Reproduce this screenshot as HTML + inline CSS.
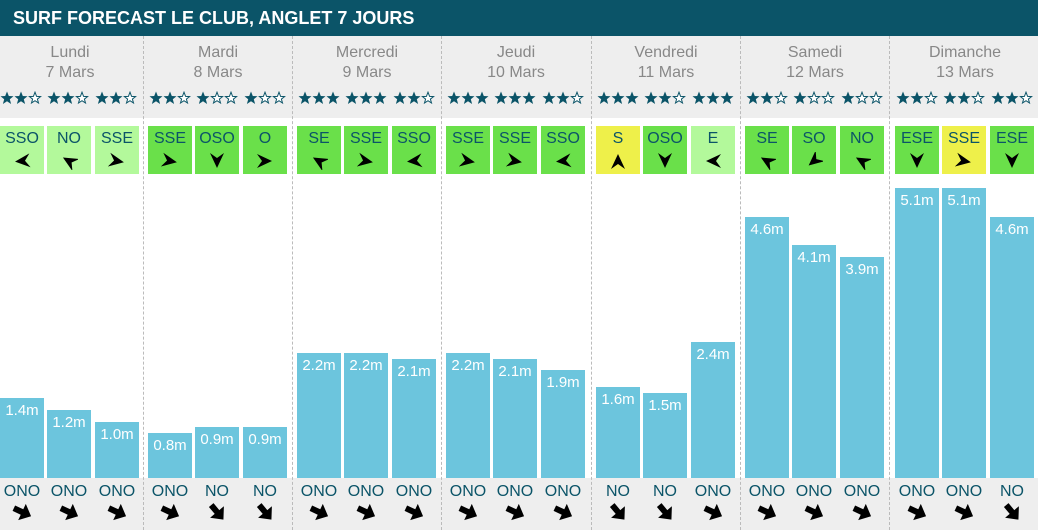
<!DOCTYPE html>
<html><head><meta charset="utf-8"><style>
body{margin:0;width:1038px;height:530px;overflow:hidden;background:#fff;font-family:"Liberation Sans",Arial,sans-serif;position:relative}
.hd{position:absolute;left:0;top:0;width:1038px;height:36px;background:#0b5468;color:#fff;font-weight:bold;font-size:18px;line-height:36px;padding-left:13px;box-sizing:border-box}
.g1{position:absolute;left:0;top:36px;width:1038px;height:82px;background:#eee}
.g2{position:absolute;left:0;top:478px;width:1038px;height:52px;background:#eee}
.dv{position:absolute;top:36px;height:494px;border-left:1px dashed #bbb}
.day{position:absolute;top:43px;width:140px;text-align:center;color:#888;font-size:16px;line-height:20px}
.st{position:absolute;top:91px;width:44px;height:16px}
.w{position:absolute;top:126px;width:44px;height:48px;text-align:center;color:#0b5468;font-size:16px;line-height:26px}
.w svg,.b svg{display:block;margin:0 auto}
.L{background:#b3f99b}.G{background:#6ae04a}.Y{background:#eef04a}
.bar{position:absolute;bottom:52px;width:44px;background:#6cc5dd;color:#fff;font-size:15px;text-align:center;padding-top:4px;box-sizing:border-box}
.b{position:absolute;top:482px;width:48px;text-align:center;color:#0b5468;font-size:16px;line-height:20px}
</style></head><body>
<div class="hd">SURF FORECAST LE CLUB, ANGLET 7 JOURS</div>
<div class="g1"></div><div class="g2"></div>
<div class="dv" style="left:143px"></div><div class="dv" style="left:292px"></div><div class="dv" style="left:441px"></div><div class="dv" style="left:591px"></div><div class="dv" style="left:740px"></div><div class="dv" style="left:889px"></div>

<div class="day" style="left:0">Lundi<br>7 Mars</div>
<div class="day" style="left:148px">Mardi<br>8 Mars</div>
<div class="day" style="left:297px">Mercredi<br>9 Mars</div>
<div class="day" style="left:446px">Jeudi<br>10 Mars</div>
<div class="day" style="left:596px">Vendredi<br>11 Mars</div>
<div class="day" style="left:745px">Samedi<br>12 Mars</div>
<div class="day" style="left:895px">Dimanche<br>13 Mars</div>

<svg width="0" height="0" style="position:absolute"><defs>
<polygon id="a" points="8,1 15,16 8,11 1,16" fill="#000"/>
<polygon id="s" points="10,0 19,10 13,10 13,19 7,19 7,10 1,10" fill="#000"/>
<polygon id="f" points="7,0.5 8.8,5 13.5,5.2 9.8,8.2 11.1,13 7,10.3 2.9,13 4.2,8.2 0.5,5.2 5.2,5" fill="#0b5468"/>
<polygon id="e" points="7,1.2 8.6,5.4 12.6,5.6 9.4,8.1 10.5,12 7,9.7 3.5,12 4.6,8.1 1.4,5.6 5.4,5.4" fill="#fff" stroke="#0b5468" stroke-width="1"/>
<g id="s3"><use href="#f"/><use href="#f" x="14"/><use href="#f" x="28"/></g>
<g id="s2"><use href="#f"/><use href="#f" x="14"/><use href="#e" x="28"/></g>
<g id="s1"><use href="#f"/><use href="#e" x="14"/><use href="#e" x="28"/></g>
</defs></svg>

<svg class="st" style="left:0"><use href="#s2"/></svg><svg class="st" style="left:47px"><use href="#s2"/></svg><svg class="st" style="left:95px"><use href="#s2"/></svg>
<svg class="st" style="left:149px"><use href="#s2"/></svg><svg class="st" style="left:196px"><use href="#s1"/></svg><svg class="st" style="left:244px"><use href="#s1"/></svg>
<svg class="st" style="left:298px"><use href="#s3"/></svg><svg class="st" style="left:345px"><use href="#s3"/></svg><svg class="st" style="left:393px"><use href="#s2"/></svg>
<svg class="st" style="left:447px"><use href="#s3"/></svg><svg class="st" style="left:494px"><use href="#s3"/></svg><svg class="st" style="left:542px"><use href="#s2"/></svg>
<svg class="st" style="left:597px"><use href="#s3"/></svg><svg class="st" style="left:644px"><use href="#s2"/></svg><svg class="st" style="left:692px"><use href="#s3"/></svg>
<svg class="st" style="left:746px"><use href="#s2"/></svg><svg class="st" style="left:793px"><use href="#s1"/></svg><svg class="st" style="left:841px"><use href="#s1"/></svg>
<svg class="st" style="left:896px"><use href="#s2"/></svg><svg class="st" style="left:943px"><use href="#s2"/></svg><svg class="st" style="left:991px"><use href="#s2"/></svg>

<div class="w L" style="left:0">SSO<svg width="18" height="18"><use href="#a" transform="rotate(265 9 9) translate(1 1)"/></svg></div>
<div class="w L" style="left:47px">NO<svg width="18" height="18"><use href="#a" transform="rotate(300 9 9) translate(1 1)"/></svg></div>
<div class="w L" style="left:95px">SSE<svg width="18" height="18"><use href="#a" transform="rotate(100 9 9) translate(1 1)"/></svg></div>
<div class="w G" style="left:148px">SSE<svg width="18" height="18"><use href="#a" transform="rotate(100 9 9) translate(1 1)"/></svg></div>
<div class="w G" style="left:195px">OSO<svg width="18" height="18"><use href="#a" transform="rotate(180 9 9) translate(1 1)"/></svg></div>
<div class="w G" style="left:243px">O<svg width="18" height="18"><use href="#a" transform="rotate(90 9 9) translate(1 1)"/></svg></div>
<div class="w G" style="left:297px">SE<svg width="18" height="18"><use href="#a" transform="rotate(300 9 9) translate(1 1)"/></svg></div>
<div class="w G" style="left:344px">SSE<svg width="18" height="18"><use href="#a" transform="rotate(100 9 9) translate(1 1)"/></svg></div>
<div class="w G" style="left:392px">SSO<svg width="18" height="18"><use href="#a" transform="rotate(265 9 9) translate(1 1)"/></svg></div>
<div class="w G" style="left:446px">SSE<svg width="18" height="18"><use href="#a" transform="rotate(100 9 9) translate(1 1)"/></svg></div>
<div class="w G" style="left:493px">SSE<svg width="18" height="18"><use href="#a" transform="rotate(100 9 9) translate(1 1)"/></svg></div>
<div class="w G" style="left:541px">SSO<svg width="18" height="18"><use href="#a" transform="rotate(265 9 9) translate(1 1)"/></svg></div>
<div class="w Y" style="left:596px">S<svg width="18" height="18"><use href="#a" transform="rotate(0 9 9) translate(1 1)"/></svg></div>
<div class="w G" style="left:643px">OSO<svg width="18" height="18"><use href="#a" transform="rotate(180 9 9) translate(1 1)"/></svg></div>
<div class="w L" style="left:691px">E<svg width="18" height="18"><use href="#a" transform="rotate(270 9 9) translate(1 1)"/></svg></div>
<div class="w G" style="left:745px">SE<svg width="18" height="18"><use href="#a" transform="rotate(300 9 9) translate(1 1)"/></svg></div>
<div class="w G" style="left:792px">SO<svg width="18" height="18"><use href="#a" transform="rotate(230 9 9) translate(1 1)"/></svg></div>
<div class="w G" style="left:840px">NO<svg width="18" height="18"><use href="#a" transform="rotate(300 9 9) translate(1 1)"/></svg></div>
<div class="w G" style="left:895px">ESE<svg width="18" height="18"><use href="#a" transform="rotate(180 9 9) translate(1 1)"/></svg></div>
<div class="w Y" style="left:942px">SSE<svg width="18" height="18"><use href="#a" transform="rotate(100 9 9) translate(1 1)"/></svg></div>
<div class="w G" style="left:990px">ESE<svg width="18" height="18"><use href="#a" transform="rotate(180 9 9) translate(1 1)"/></svg></div>

<div class="bar" style="left:0;height:80px">1.4m</div>
<div class="bar" style="left:47px;height:68px">1.2m</div>
<div class="bar" style="left:95px;height:56px">1.0m</div>
<div class="bar" style="left:148px;height:45px">0.8m</div>
<div class="bar" style="left:195px;height:51px">0.9m</div>
<div class="bar" style="left:243px;height:51px">0.9m</div>
<div class="bar" style="left:297px;height:125px">2.2m</div>
<div class="bar" style="left:344px;height:125px">2.2m</div>
<div class="bar" style="left:392px;height:119px">2.1m</div>
<div class="bar" style="left:446px;height:125px">2.2m</div>
<div class="bar" style="left:493px;height:119px">2.1m</div>
<div class="bar" style="left:541px;height:108px">1.9m</div>
<div class="bar" style="left:596px;height:91px">1.6m</div>
<div class="bar" style="left:643px;height:85px">1.5m</div>
<div class="bar" style="left:691px;height:136px">2.4m</div>
<div class="bar" style="left:745px;height:261px">4.6m</div>
<div class="bar" style="left:792px;height:233px">4.1m</div>
<div class="bar" style="left:840px;height:221px">3.9m</div>
<div class="bar" style="left:895px;height:290px">5.1m</div>
<div class="bar" style="left:942px;height:290px">5.1m</div>
<div class="bar" style="left:990px;height:261px">4.6m</div>

<div class="b" style="left:-2px">ONO<svg width="20" height="20"><use href="#s" transform="rotate(115 10 10)"/></svg></div>
<div class="b" style="left:45px">ONO<svg width="20" height="20"><use href="#s" transform="rotate(115 10 10)"/></svg></div>
<div class="b" style="left:93px">ONO<svg width="20" height="20"><use href="#s" transform="rotate(115 10 10)"/></svg></div>
<div class="b" style="left:146px">ONO<svg width="20" height="20"><use href="#s" transform="rotate(115 10 10)"/></svg></div>
<div class="b" style="left:193px">NO<svg width="20" height="20"><use href="#s" transform="rotate(140 10 10)"/></svg></div>
<div class="b" style="left:241px">NO<svg width="20" height="20"><use href="#s" transform="rotate(140 10 10)"/></svg></div>
<div class="b" style="left:295px">ONO<svg width="20" height="20"><use href="#s" transform="rotate(115 10 10)"/></svg></div>
<div class="b" style="left:342px">ONO<svg width="20" height="20"><use href="#s" transform="rotate(115 10 10)"/></svg></div>
<div class="b" style="left:390px">ONO<svg width="20" height="20"><use href="#s" transform="rotate(115 10 10)"/></svg></div>
<div class="b" style="left:444px">ONO<svg width="20" height="20"><use href="#s" transform="rotate(115 10 10)"/></svg></div>
<div class="b" style="left:491px">ONO<svg width="20" height="20"><use href="#s" transform="rotate(115 10 10)"/></svg></div>
<div class="b" style="left:539px">ONO<svg width="20" height="20"><use href="#s" transform="rotate(115 10 10)"/></svg></div>
<div class="b" style="left:594px">NO<svg width="20" height="20"><use href="#s" transform="rotate(140 10 10)"/></svg></div>
<div class="b" style="left:641px">NO<svg width="20" height="20"><use href="#s" transform="rotate(140 10 10)"/></svg></div>
<div class="b" style="left:689px">ONO<svg width="20" height="20"><use href="#s" transform="rotate(115 10 10)"/></svg></div>
<div class="b" style="left:743px">ONO<svg width="20" height="20"><use href="#s" transform="rotate(115 10 10)"/></svg></div>
<div class="b" style="left:790px">ONO<svg width="20" height="20"><use href="#s" transform="rotate(115 10 10)"/></svg></div>
<div class="b" style="left:838px">ONO<svg width="20" height="20"><use href="#s" transform="rotate(115 10 10)"/></svg></div>
<div class="b" style="left:893px">ONO<svg width="20" height="20"><use href="#s" transform="rotate(115 10 10)"/></svg></div>
<div class="b" style="left:940px">ONO<svg width="20" height="20"><use href="#s" transform="rotate(115 10 10)"/></svg></div>
<div class="b" style="left:988px">NO<svg width="20" height="20"><use href="#s" transform="rotate(140 10 10)"/></svg></div>
</body></html>
